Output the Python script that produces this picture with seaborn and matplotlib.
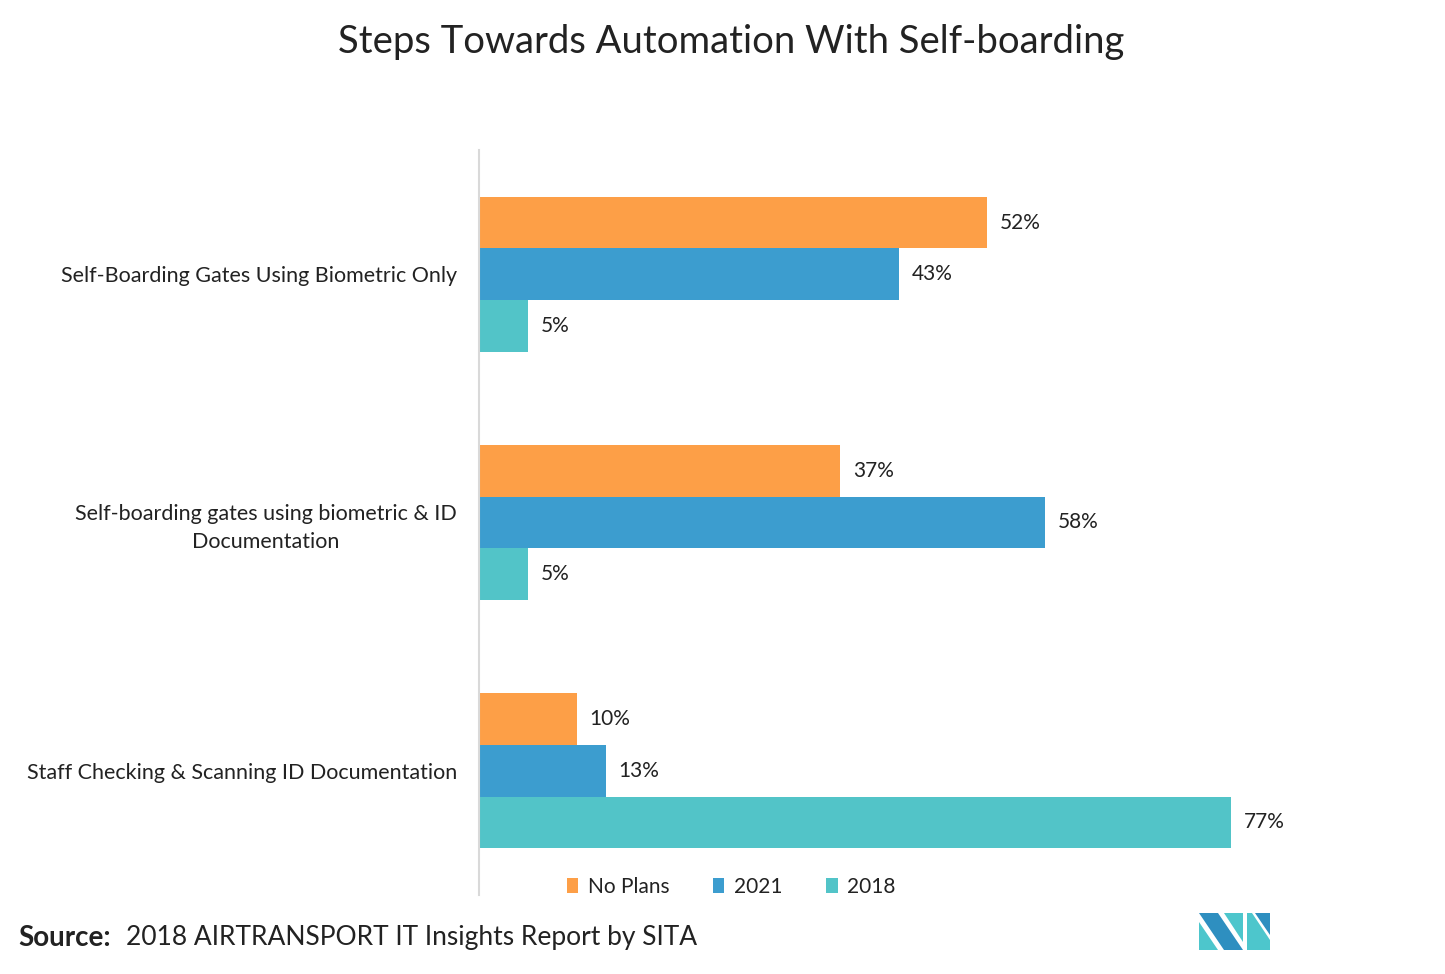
import matplotlib
matplotlib.use("Agg")
import matplotlib.pyplot as plt
import seaborn as sns
import pandas as pd
from matplotlib.patches import Polygon, Patch

categories = ["Self-Boarding Gates Using Biometric Only",
              "Self-boarding gates using biometric & ID\nDocumentation",
              "Staff Checking & Scanning ID Documentation"]
series = ["No Plans", "2021", "2018"]
no_plans = [52, 37, 10]
y2021 = [43, 58, 13]
y2018 = [5, 5, 77]
colors = ["#FD9F47", "#3C9DCF", "#52C4C8"]

rows = []
for s, vals in zip(series, [no_plans, y2021, y2018]):
    for c, v in zip(categories, vals):
        rows.append({"cat": c, "series": s, "val": v})
df = pd.DataFrame(rows)

sns.set_theme(style="white")
plt.rcParams["font.family"] = ["Lato", "DejaVu Sans"]

fig = plt.figure(figsize=(14.45, 9.74), dpi=100)
ax = fig.add_axes([479/1445, 1-895/974, (1400-479)/1445, (895-150)/974])

sns.barplot(data=df, y="cat", x="val", hue="series", orient="h",
            palette=colors, width=0.623, saturation=1, ax=ax, legend=False,
            linewidth=0, edgecolor="none")

ax.set_xlim(0, 94.3)
ax.set_ylim(2.5, -0.5)
ax.set_xlabel("")
ax.set_ylabel("")
ax.set_xticks([])
for sp in ["top", "right", "bottom"]:
    ax.spines[sp].set_visible(False)
ax.spines["left"].set_color("#d9d9d9")
ax.spines["left"].set_linewidth(1.5)
ax.tick_params(axis="y", length=0, pad=22, labelsize=15.5, labelcolor="#222222")
for lab in ax.get_yticklabels():
    lab.set_multialignment("center")
    lab.set_linespacing(1.45)
ax.tick_params(axis="y", pad=16)

for cont in ax.containers:
    ax.bar_label(cont, labels=[f"{int(round(v))}%" for v in cont.datavalues],
                 padding=9, fontsize=15, color="#222222")

fig.text(0.506, 1-42/974, "Steps Towards Automation With Self-boarding",
         ha="center", va="center", fontsize=27.5, color="#222222")

handles = [Patch(facecolor=c, edgecolor="none") for c in colors]
fig.legend(handles, series, loc="center", bbox_to_anchor=(731/1445, 1-887/974),
           ncol=3, frameon=False, fontsize=15, handlelength=0.55, handleheight=0.7,
           handletextpad=0.45, columnspacing=2.1, labelcolor="#222222")

fig.text(18/1445, 1-938/974, "Source:", ha="left", va="center",
         fontsize=20, fontweight="bold", color="#222222")
fig.text(126/1445, 1-938/974, "2018 AIRTRANSPORT IT Insights Report by SITA",
         ha="left", va="center", fontsize=19, color="#222222")

# logo
def P(pts, color):
    fig.patches.append(Polygon([(x/1445, 1-y/974) for x, y in pts], closed=True,
                               facecolor=color, edgecolor="none",
                               transform=fig.transFigure, figure=fig))
P([(1199, 913), (1218, 913), (1243, 950), (1224, 950)], "#2E8FC0")
P([(1199, 922), (1218, 950), (1199, 950)], "#4DC6CC")
P([(1224, 913), (1243, 913), (1243, 942)], "#4DC6CC")
P([(1247, 913), (1252, 913), (1270, 940), (1270, 950), (1247, 950)], "#4DC6CC")
P([(1255, 913), (1270, 913), (1270, 935)], "#2E8FC0")

fig.savefig("out.png", dpi=100, facecolor="white")
